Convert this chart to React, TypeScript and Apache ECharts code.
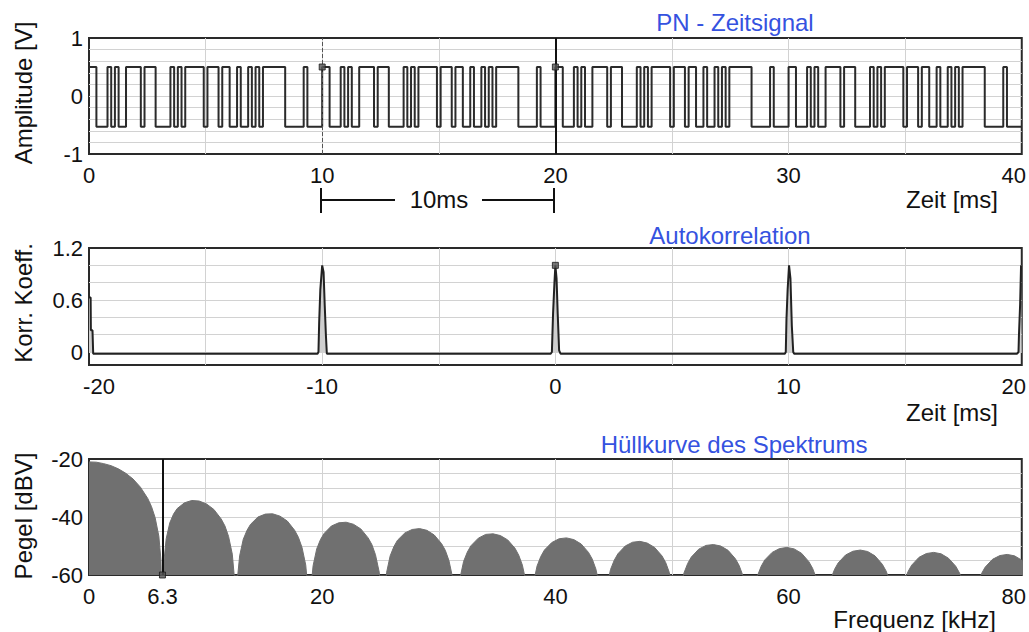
import React, { useEffect, useRef } from 'react';
import * as echarts from 'echarts';

// ---------- Data ----------
// One 10 ms period of the PN chip sequence (1 = high, 0 = low)
const PN_CHIPS = [
  1, 1, 0, 0, 0, 1, 0, 1, 0, 0,
  1, 1, 1, 1, 0, 1, 1, 1, 0, 0,
  0, 0, 1, 0, 1, 0, 1, 1, 1, 1,
  1, 0, 1, 1, 1, 0, 1, 1, 0, 0,
  1, 0, 0, 1, 0, 1, 0, 1, 1, 1,
  1, 1, 1, 0, 0, 0, 0, 0, 1, 0,
  0, 0, 0,
];
const PN_PERIOD_MS = 10;
const PN_PERIODS = 4;
const PN_HIGH = 0.5;
const PN_LOW = -0.53;

// Autocorrelation [lag ms, coefficient]
const ACF_POINTS: [number, number][] = [
  [-20, 0.63], [-19.93, 0.63], [-19.92, 0.25], [-19.85, 0.25], [-19.82, -0.02],
  [-10.2, -0.02], [-10.16, 0.0], [-10.13, 0.34], [-10.08, 0.72], [-10.0, 1.0], [-9.94, 0.92], [-9.89, 0.53], [-9.84, 0.19], [-9.8, -0.02],
  [-0.2, -0.02], [-0.15, 0.0], [-0.1, 0.44], [-0.04, 0.8], [0, 1.0], [0.05, 0.85], [0.1, 0.44], [0.16, 0.02], [0.22, -0.02],
  [9.84, -0.02], [9.88, 0.0], [9.91, 0.38], [9.96, 0.72], [10.02, 1.0], [10.08, 0.85], [10.14, 0.3], [10.2, 0.0], [10.24, -0.02],
  [19.8, -0.02], [19.86, 0.0], [19.88, 0.2], [19.93, 0.55], [19.97, 1.0], [20, 1.0],
];

// Spectrum envelope [kHz, dBV]
const SPECTRUM_POINTS: [number, number][] = [
  [0, -21.0], [0.63, -21.1], [1.26, -21.6], [1.89, -22.3], [2.52, -23.4], [3.15, -24.9], [3.78, -26.9], [4.41, -29.7], [5.04, -33.6], [5.36, -36.4], [5.67, -40.2], [5.99, -46.6], [6.17, -54.8], [6.3, -80],
  [6.43, -55.1], [6.62, -47.5], [6.93, -42.0], [7.25, -39.0], [7.56, -37.1], [8.19, -35.1], [8.82, -34.3], [9.45, -34.5], [10.08, -35.5], [10.71, -37.4], [11.34, -40.7], [11.66, -43.1], [11.97, -46.7], [12.29, -52.8], [12.47, -60.9], [12.6, -80],
  [12.73, -61.2], [12.92, -53.4], [13.23, -47.7], [13.55, -44.6], [13.86, -42.5], [14.49, -40.0], [15.12, -39.0], [15.75, -38.9], [16.38, -39.7], [17.01, -41.4], [17.64, -44.6], [17.96, -47.0], [18.27, -50.5], [18.59, -56.6], [18.77, -64.6], [18.9, -80],
  [19.03, -64.6], [19.22, -56.8], [19.53, -51.0], [19.85, -47.8], [20.16, -45.7], [20.79, -43.1], [21.42, -42.0], [22.05, -41.8], [22.68, -42.5], [23.31, -44.1], [23.94, -47.2], [24.26, -49.5], [24.57, -53.0], [24.89, -59.0], [25.07, -67], [25.2, -80],
  [25.52, -59.2], [25.83, -53.4], [26.15, -50.2], [26.46, -48.0], [27.09, -45.5], [27.72, -44.3], [28.35, -44.0], [28.98, -44.6], [29.61, -46.2], [30.24, -49.2], [30.56, -51.5], [30.87, -55.0], [31.19, -61.0], [31.5, -80],
  [31.82, -61.1], [32.13, -55.3], [32.45, -52.1], [32.76, -49.9], [33.39, -47.3], [34.02, -46.0], [34.65, -45.8], [35.28, -46.4], [35.91, -47.9], [36.54, -50.8], [36.86, -53.2], [37.17, -56.6], [37.49, -62.6], [37.8, -80],
  [38.12, -62.7], [38.43, -56.9], [38.75, -53.6], [39.06, -51.4], [39.69, -48.8], [40.32, -47.5], [40.95, -47.2], [41.58, -47.8], [42.21, -49.3], [42.84, -52.2], [43.16, -54.5], [43.47, -57.9], [43.79, -63.8], [44.1, -80],
  [44.42, -64.0], [44.73, -58.1], [45.05, -54.9], [45.36, -52.7], [45.99, -50.0], [46.62, -48.7], [47.25, -48.4], [47.88, -49.0], [48.51, -50.5], [49.14, -53.4], [49.46, -55.7], [49.77, -59.1], [50.09, -65.0], [50.4, -80],
  [50.72, -65.0], [51.03, -59.3], [51.35, -56.0], [51.66, -53.8], [52.29, -51.1], [52.92, -49.8], [53.55, -49.5], [54.18, -50.0], [54.81, -51.5], [55.44, -54.4], [55.76, -56.7], [56.07, -60.1], [56.39, -66.0], [56.7, -80],
  [57.02, -66.0], [57.33, -60.3], [57.65, -57.0], [57.96, -54.8], [58.59, -52.2], [59.22, -50.9], [59.85, -50.5], [60.48, -51.0], [61.11, -52.5], [61.74, -55.4], [62.06, -57.7], [62.37, -61.0], [62.69, -67.0], [63.0, -80],
  [63.32, -67.0], [63.63, -61.3], [63.95, -58.0], [64.26, -55.8], [64.89, -53.1], [65.52, -51.8], [66.15, -51.4], [66.78, -51.9], [67.41, -53.4], [68.04, -56.3], [68.36, -58.6], [68.67, -61.9], [68.99, -68.0], [69.3, -80],
  [69.62, -68.0], [69.93, -62.1], [70.25, -58.8], [70.56, -56.6], [71.19, -53.9], [71.82, -52.6], [72.45, -52.2], [73.08, -52.7], [73.71, -54.2], [74.34, -57.0], [74.66, -59.3], [74.97, -62.5], [75.29, -69.0], [75.6, -80],
  [75.92, -69.0], [76.23, -62.7], [76.55, -59.5], [76.86, -57.3], [77.49, -54.6], [78.12, -53.3], [78.75, -52.9], [79.38, -53.4], [80.01, -54.9], [80.64, -57.7],
];

// Cursor / marker positions
const TOP_CURSOR_DASHED = 10;
const TOP_CURSOR_SOLID = 20;
const TOP_MARKERS: [number, number][] = [[10, 0.5], [20, 0.5]];
const ACF_MARKER: [number, number][] = [[0, 1.0]];
const SPEC_CURSOR = 6.3;
const SPEC_MARKER: [number, number][] = [[6.3, -60]];

// Ticks / labels (grid lines at inner ticks; the frame covers the ends)
const TOP_X_TICKS = [5, 10, 15, 20, 25, 30, 35];
const TOP_X_LABELS = [0, 10, 20, 30, 40];
const TOP_Y_TICKS = [-0.8, -0.6, -0.4, -0.2, 0, 0.2, 0.4, 0.6, 0.8];
const TOP_Y_LABELS = [-1, 0, 1];
const MID_X_TICKS = [-15, -10, -5, 0, 5, 10, 15];
const MID_X_LABELS = [-20, -10, 0, 10, 20];
const MID_Y_TICKS = [0, 0.2, 0.4, 0.6, 0.8, 1.0];
const MID_Y_LABELS = [0, 0.6, 1.2];
const BOT_X_TICKS = [10, 20, 30, 40, 50, 60, 70];
const BOT_X_LABELS = [0, 6.3, 20, 40, 60, 80];
const BOT_Y_TICKS = [-55, -50, -45, -40, -35, -30, -25];
const BOT_Y_LABELS = [-60, -40, -20];

// ---------- Styling ----------
const FONT = "'Liberation Sans', Arial, Helvetica, sans-serif";
const TICK_FS = 22;
const NAME_FS = 24;
const TEXT_COLOR = '#111';
const TITLE_COLOR = '#3552e0';
const GRID_LINE = '#d2d2d2';

function xAxis(gridIndex: number, min: number, max: number, ticks: number[], labels: number[], shiftMin: number, shiftMax: number) {
  return {
    type: 'value', gridIndex, min, max,
    axisLine: { show: false },
    axisTick: { show: false, customValues: ticks },
    splitLine: { show: true, lineStyle: { color: GRID_LINE, width: 1 } },
    axisLabel: {
      customValues: labels,
      margin: 10,
      color: TEXT_COLOR,
      fontSize: TICK_FS,
      fontFamily: FONT,
      formatter: (v: number) => {
        if (v === min && shiftMin) return `{first|${v}}`;
        if (v === max && shiftMax) return `{last|${v}}`;
        return `{n|${v}}`;
      },
      rich: {
        n: { fontSize: TICK_FS, fontFamily: FONT, color: TEXT_COLOR },
        first: { fontSize: TICK_FS, fontFamily: FONT, color: TEXT_COLOR, padding: [0, 0, 0, shiftMin] },
        last: { fontSize: TICK_FS, fontFamily: FONT, color: TEXT_COLOR, padding: [0, shiftMax, 0, 0] },
      },
    },
  };
}

function yAxis(gridIndex: number, min: number, max: number, ticks: number[], labels: number[]) {
  return {
    type: 'value', gridIndex, min, max,
    axisLine: { show: false },
    axisTick: { show: false, customValues: ticks },
    splitLine: { show: true, lineStyle: { color: GRID_LINE, width: 1 } },
    axisLabel: {
      customValues: labels,
      margin: 6,
      color: TEXT_COLOR,
      fontSize: TICK_FS,
      fontFamily: FONT,
      formatter: (v: number) => String(v),
    },
  };
}

function text(x: number, y: number, s: string, opts: any = {}) {
  return {
    type: 'text', x, y, rotation: opts.rotation || 0, silent: true,
    style: {
      text: s,
      fill: opts.color || TEXT_COLOR,
      fontSize: opts.fontSize || NAME_FS,
      fontFamily: FONT,
      align: opts.align || 'center',
      verticalAlign: 'middle',
    },
  };
}

function line(x1: number, y1: number, x2: number, y2: number) {
  return { type: 'line', silent: true, shape: { x1, y1, x2, y2 }, style: { stroke: '#111', lineWidth: 2 } };
}

export default function App() {
  const ref = useRef<HTMLDivElement>(null);

  useEffect(() => {
    if (!ref.current) return;
    const chart = echarts.init(ref.current, undefined, { renderer: 'svg' });

    const chipMs = PN_PERIOD_MS / PN_CHIPS.length;
    const pnData: [number, number][] = [];
    for (let p = 0; p < PN_PERIODS; p++) {
      PN_CHIPS.forEach((c, k) => {
        pnData.push([(p * PN_CHIPS.length + k) * chipMs, c ? PN_HIGH : PN_LOW]);
      });
    }
    const lastChip = PN_CHIPS[PN_CHIPS.length - 1];
    pnData.push([PN_PERIOD_MS * PN_PERIODS, lastChip ? PN_HIGH : PN_LOW]);

    const gridCommon = { left: 89, width: 933, show: true, borderColor: '#2a2a2a', borderWidth: 2, backgroundColor: '#fff' };
    const markerStyle = { color: '#555', borderColor: '#1a1a1a', borderWidth: 1 };

    const option: any = {
      animation: false,
      textStyle: { fontFamily: FONT },
      grid: [
        { ...gridCommon, top: 38, height: 116 },
        { ...gridCommon, top: 248, height: 117 },
        { ...gridCommon, top: 459, height: 116 },
      ],
      xAxis: [
        xAxis(0, 0, 40, TOP_X_TICKS, TOP_X_LABELS, 0, 16),
        xAxis(1, -20, 20, MID_X_TICKS, MID_X_LABELS, 20, 16),
        xAxis(2, 0, 80, BOT_X_TICKS, BOT_X_LABELS, 0, 16),
      ],
      yAxis: [
        yAxis(0, -1, 1, TOP_Y_TICKS, TOP_Y_LABELS),
        yAxis(1, -0.15, 1.2, MID_Y_TICKS, MID_Y_LABELS),
        yAxis(2, -60, -20, BOT_Y_TICKS, BOT_Y_LABELS),
      ],
      series: [
        {
          type: 'line', xAxisIndex: 0, yAxisIndex: 0, data: pnData, step: 'end',
          showSymbol: false, symbol: 'none', silent: true,
          lineStyle: { color: '#2b2b2b', width: 2 },
          markLine: {
            silent: true, symbol: 'none', label: { show: false },
            data: [
              { xAxis: TOP_CURSOR_DASHED, lineStyle: { color: '#555', type: 'dashed', width: 1 } },
              { xAxis: TOP_CURSOR_SOLID, lineStyle: { color: '#111', type: 'solid', width: 2 } },
            ],
          },
        },
        {
          type: 'scatter', xAxisIndex: 0, yAxisIndex: 0, data: TOP_MARKERS,
          symbol: 'rect', symbolSize: 6, itemStyle: markerStyle, silent: true, z: 5,
        },
        {
          type: 'line', xAxisIndex: 1, yAxisIndex: 1, data: ACF_POINTS,
          showSymbol: false, symbol: 'none', silent: true,
          lineStyle: { color: '#222', width: 2 },
          areaStyle: { color: '#cfcfcf', opacity: 1 },
        },
        {
          type: 'scatter', xAxisIndex: 1, yAxisIndex: 1, data: ACF_MARKER,
          symbol: 'rect', symbolSize: 6, itemStyle: markerStyle, silent: true, z: 5,
        },
        {
          type: 'line', xAxisIndex: 2, yAxisIndex: 2, data: SPECTRUM_POINTS,
          showSymbol: false, symbol: 'none', silent: true,
          lineStyle: { color: '#707070', width: 1 },
          areaStyle: { color: '#707070', opacity: 1, origin: 'start' },
          markLine: {
            silent: true, symbol: 'none', label: { show: false },
            data: [{ xAxis: SPEC_CURSOR, lineStyle: { color: '#111', type: 'solid', width: 2 } }],
          },
        },
        {
          type: 'scatter', xAxisIndex: 2, yAxisIndex: 2, data: SPEC_MARKER,
          symbol: 'rect', symbolSize: 6, itemStyle: markerStyle, silent: true, z: 5, clip: false,
        },
      ],
      graphic: [
        text(735, 22, 'PN - Zeitsignal', { color: TITLE_COLOR }),
        text(730, 235, 'Autokorrelation', { color: TITLE_COLOR }),
        text(734, 444, 'Hüllkurve des Spektrums', { color: TITLE_COLOR }),
        text(998, 199, 'Zeit [ms]', { align: 'right' }),
        text(998, 412, 'Zeit [ms]', { align: 'right' }),
        text(996, 619, 'Frequenz [kHz]', { align: 'right' }),
        text(23, 93, 'Amplitude [V]', { rotation: Math.PI / 2 }),
        text(23, 303, 'Korr. Koeff.', { rotation: Math.PI / 2 }),
        text(23, 516, 'Pegel [dBV]', { rotation: Math.PI / 2 }),
        // 10 ms bracket
        line(321, 200, 395, 200),
        line(482, 200, 554, 200),
        line(321, 188, 321, 213),
        line(554, 188, 554, 213),
        text(439, 199, '10ms'),
      ],
    };

    chart.setOption(option);
    return () => chart.dispose();
  }, []);

  return (
    <div
      ref={ref}
      style={{ position: 'absolute', left: 0, top: 0, width: 1029, height: 632, background: '#fff' }}
    />
  );
}
